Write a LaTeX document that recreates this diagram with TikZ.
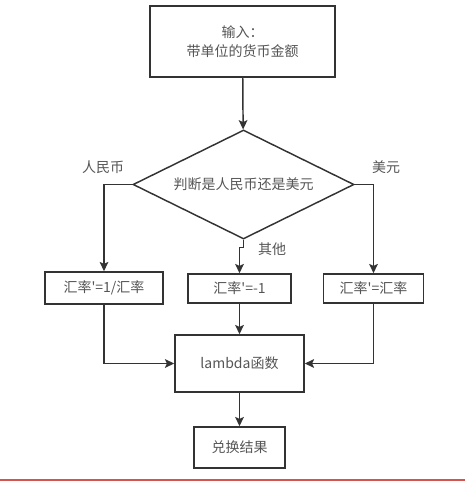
\documentclass[tikz,border=0pt]{standalone}
\usepackage{fontspec}
\newfontfamily\cjk{Noto Sans CJK SC}
\usetikzlibrary{shapes.geometric,arrows.meta}
\definecolor{linegray}{RGB}{51,51,51}
\definecolor{textgray}{RGB}{85,85,85}
\definecolor{barred}{RGB}{214,84,80}
\begin{document}
\begin{tikzpicture}[x=0.75pt,y=-0.75pt]
\tikzstyle{box} = [draw=linegray,line width=1.1pt,rectangle,align=center,text=textgray,font=\cjk\fontsize{10.5}{14}\selectfont]
\tikzstyle{decision} = [draw=linegray,line width=1.1pt,diamond,aspect=2,inner sep=0pt,text=textgray,font=\cjk\fontsize{10.5}{14}\selectfont]
\tikzstyle{lbl} = [text=textgray,font=\cjk\fontsize{10.5}{14}\selectfont]
\tikzstyle{arr} = [draw=linegray,line width=1.1pt,-{Stealth[length=7pt,width=6.5pt,inset=1.5pt]}]
\useasboundingbox (0,0) rectangle (465,481);
	\node[box,minimum width=138.75pt,minimum height=53.25pt] (input) at (242.5,41.5) {输入：\\带单位的货币金额};
	\node[decision,minimum width=165.75pt,minimum height=81.75pt] (judge) at (243.5,184.5) {判断是人民币还是美元};
	\node[box,minimum width=88.5pt,minimum height=24pt] (rmb) at (104,288) {汇率'=1/汇率};
	\node[box,minimum width=77.25pt,minimum height=21.75pt] (other) at (239.5,288.5) {汇率'=-1};
	\node[box,minimum width=75pt,minimum height=21.75pt] (usd) at (373.5,288.5) {汇率'=汇率};
	\node[box,minimum width=96.75pt,minimum height=42.75pt] (lambda) at (239.5,363.5) {lambda函数};
	\node[box,minimum width=68.25pt,minimum height=30.75pt] (result) at (239.5,447.5) {兑换结果};
	\node[lbl] (rmblbl) at (103,167) {人民币};
	\node[lbl] (usdlbl) at (386,167) {美元};
	\node[lbl] (otherlbl) at (272,249) {其他};
	\draw[arr] (input) -- (judge);
	\draw[arr] (judge.west) -| (rmb.north);
	\draw[arr] (judge.east) -| (usd.north);
	\draw[arr] (judge.south) -- ++(0,8) -| (other.north);
	\draw[arr] (other) -- (lambda);
	\draw[arr] (rmb.south) |- (lambda.west);
	\draw[arr] (usd.south) |- (lambda.east);
	\draw[arr] (lambda) -- (result);
	\draw[barred,line width=1.6pt] (0,480) -- (465,480);
\end{tikzpicture}
\end{document}
